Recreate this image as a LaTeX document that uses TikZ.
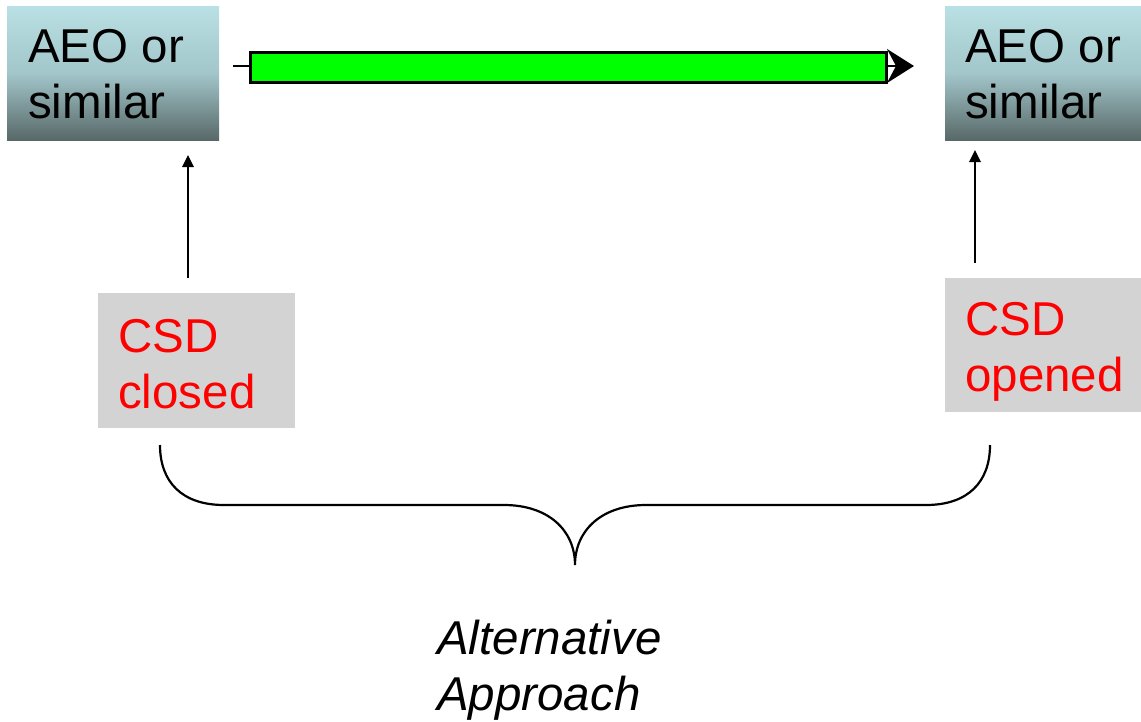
\documentclass[tikz,border=0pt]{standalone}
\usepackage{fontspec}
\setmainfont{Liberation Sans}
\usetikzlibrary{arrows.meta}
\definecolor{boxtop}{RGB}{185,224,228}
\definecolor{boxmid}{RGB}{162,198,202}
\definecolor{boxbot}{RGB}{88,104,104}
\definecolor{csdgrey}{RGB}{211,211,211}
\definecolor{barfill}{RGB}{0,255,0}
\tikzset{
  aeobox/.style={rectangle, inner sep=0pt, anchor=north west,
    top color=boxtop, bottom color=boxbot, middle color=boxmid},
  csdbox/.style={rectangle, inner sep=0pt, anchor=north west, fill=csdgrey},
  bigtext/.style={inner sep=0pt, anchor=base west, align=left,
    font=\fontsize{47.5}{56}\selectfont},
  uparrow/.style={line width=2.6pt, -{Triangle[length=12pt,width=11pt]}},
  brace/.style={line width=2.2pt},
}
\begin{document}
\begin{tikzpicture}[x=1pt,y=-1pt]
\useasboundingbox (0,0) rectangle (1141,721);
% operator boxes
\node[aeobox, minimum width=212pt, minimum height=134pt] (aeoL) at (7,6) {};
\node[aeobox, minimum width=196pt, minimum height=134pt] (aeoR) at (945,6) {};
\node[bigtext] (aeoLt) at (28,118) {AEO or\\similar};
\node[bigtext] (aeoRt) at (965,118) {AEO or\\similar};
% CSD boxes
\node[csdbox, minimum width=197pt, minimum height=135pt] (csdL) at (98,293) {};
\node[csdbox, minimum width=196pt, minimum height=134pt] (csdR) at (945,278) {};
\node[bigtext, text=red] (csdLt) at (118,408) {CSD\\closed};
\node[bigtext, text=red] (csdRt) at (965,391) {CSD\\opened};
% progression bar with arrow
\coordinate (barS) at (233,66);
\coordinate (barE) at (914,66);
\draw[line width=2.4pt, -{Stealth[length=27pt,width=34pt,inset=9pt]}] (barS) -- (barE);
\node[rectangle, draw=black, line width=2.6pt, fill=barfill, inner sep=0pt,
  anchor=north west, minimum width=636pt, minimum height=30pt] (bar) at (249,51) {};
% vertical arrows
\coordinate (aL) at (188,278);
\coordinate (aLt) at (188,155);
\coordinate (aR) at (975,263);
\coordinate (aRt) at (975,150);
\draw[uparrow] (aL) -- (aLt);
\draw[uparrow] (aR) -- (aRt);
% brace
\coordinate (bL) at (160,445);
\coordinate (bT) at (575,565);
\coordinate (bR) at (990,445);
\draw[brace] (bL) .. controls (160,482) and (182,505) .. (224,505)
  -- (504,505) .. controls (548,505) and (575,530) .. (bT)
  .. controls (575,530) and (602,505) .. (646,505)
  -- (926,505) .. controls (968,505) and (990,482) .. (bR);
\node[bigtext, font=\fontsize{47.5}{56}\selectfont\itshape] (alt) at (437,710) {Alternative\\Approach};
\end{tikzpicture}
\end{document}
